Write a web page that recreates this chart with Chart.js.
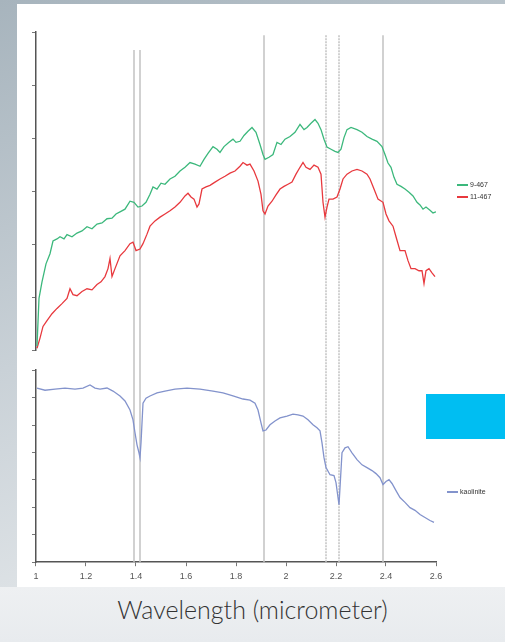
<!DOCTYPE html>
<html>
<head>
<meta charset="utf-8">
<script src="https://cdn.jsdelivr.net/npm/chart.js@4"></script>
<style>
  html, body { margin: 0; padding: 0; }
  body {
    width: 505px; height: 642px; overflow: hidden; position: relative;
    background: linear-gradient(160deg, #a7b4bd 0%, #c9d1d7 45%, #e2e6e9 80%, #eceef0 100%);
    font-family: "Liberation Sans", sans-serif;
  }
  #panel { position: absolute; left: 17px; top: 4px; width: 488px; height: 583px; background: #fff; }
  #bottomBand { position: absolute; left: 0; top: 587px; width: 505px; height: 55px; background: linear-gradient(180deg, #eef0f2, #e8ebee); }
  #wrap { position: absolute; left: 17px; top: 4px; width: 488px; height: 583px; }
  #caption { position: absolute; left: 0; width: 505px; top: 594px; text-align: center;
    font-family: Lato, "Open Sans", sans-serif; font-weight: 300; font-size: 25px; color: #333; }
  .leg { position: absolute; font-size: 7px; color: #333; white-space: nowrap; line-height: 8px; }
  .leg span.ln { display: inline-block; width: 11px; height: 2px; vertical-align: middle; margin-right: 2px; }
  #cyanBox { position: absolute; left: 426px; top: 394px; width: 79px; height: 45px; background: #00bef2; }
</style>
</head>
<body>
<div id="panel"></div>
<div id="bottomBand"></div>
<div id="wrap"><canvas id="cvs"></canvas></div>
<div id="cyanBox"></div>
<div id="legTop1" class="leg" style="left:457px; top:181px;"></div>
<div id="legTop2" class="leg" style="left:457px; top:193px;"></div>
<div id="legBot" class="leg" style="left:447px; top:488px;"></div>
<div id="caption">Wavelength (micrometer)</div>
<script>
// series names
const seriesNames = ['9-467', '11-467', 'kaolinite'];

// sample 9-467 (top panel)
const wl9467 = [1.004,1.012,1.024,1.04,1.056,1.068,1.084,1.096,1.112,1.124,
  1.144,1.164,1.184,1.204,1.224,1.244,1.264,1.284,1.304,1.32,
  1.336,1.356,1.376,1.392,1.408,1.424,1.44,1.456,1.468,1.484,
  1.5,1.516,1.536,1.556,1.576,1.596,1.616,1.636,1.656,1.672,
  1.688,1.708,1.724,1.736,1.752,1.772,1.788,1.8,1.816,1.832,
  1.848,1.864,1.88,1.896,1.908,1.916,1.932,1.948,1.964,1.98,
  1.996,2.016,2.036,2.056,2.072,2.084,2.1,2.116,2.128,2.14,
  2.152,2.164,2.18,2.196,2.208,2.22,2.232,2.244,2.26,2.284,
  2.304,2.324,2.344,2.364,2.384,2.396,2.408,2.42,2.432,2.444,
  2.46,2.476,2.492,2.508,2.524,2.536,2.548,2.56,2.576,2.588,2.6];
const r9467 = [0.8,9.8,12.9,16.3,18.2,20.6,21.0,21.4,21.0,21.8,
  21.4,22.1,22.5,23.3,22.9,23.8,24.0,24.8,24.9,25.7,
  26.1,26.6,28.1,27.9,27.0,27.2,27.9,29.4,30.8,30.4,
  31.5,31.3,32.3,32.8,33.8,34.5,35.4,35.1,34.7,36.0,
  37.1,38.4,37.9,37.3,38.4,39.2,39.8,39.2,39.4,40.5,
  41.3,42.0,41.1,38.8,36.9,36.0,36.4,36.9,39.2,38.8,
  39.8,40.3,41.1,42.6,41.6,42.0,42.8,43.5,42.8,41.6,
  39.8,38.3,37.9,37.5,37.3,37.9,40.1,41.6,42.0,41.6,
  41.1,40.3,39.8,39.4,38.4,36.9,35.3,34.5,32.6,31.3,
  30.9,30.4,29.8,29.1,27.9,27.4,26.6,27.0,26.4,25.9,26.1];

// sample 11-467 (top panel)
const wl11467 = [1.004,1.016,1.028,1.044,1.064,1.084,1.104,1.124,1.136,1.148,
  1.164,1.184,1.204,1.224,1.244,1.26,1.276,1.288,1.296,1.304,
  1.316,1.336,1.356,1.376,1.388,1.4,1.416,1.428,1.444,1.456,
  1.476,1.496,1.516,1.536,1.556,1.576,1.596,1.608,1.62,1.632,
  1.644,1.652,1.664,1.68,1.696,1.716,1.736,1.756,1.776,1.796,
  1.816,1.828,1.844,1.856,1.872,1.888,1.9,1.908,1.916,1.928,
  1.944,1.96,1.976,1.992,2.008,2.024,2.04,2.056,2.068,2.08,
  2.096,2.112,2.128,2.14,2.148,2.156,2.164,2.172,2.188,2.204,
  2.216,2.228,2.244,2.264,2.284,2.304,2.324,2.336,2.352,2.368,
  2.388,2.4,2.412,2.428,2.44,2.456,2.476,2.488,2.5,2.516,
  2.532,2.544,2.552,2.56,2.572,2.584,2.596];
const r11467 = [0.4,2.3,4.5,5.6,6.9,7.9,8.8,9.8,11.6,10.5,
  10.3,11.1,11.6,11.4,12.4,12.9,13.9,15.4,17.3,13.9,
  15.4,17.8,18.8,20.1,20.4,18.8,19.1,20.1,21.9,23.4,
  24.4,25.1,25.7,26.3,27.0,27.9,29.1,29.6,28.9,28.5,
  27.0,27.6,30.4,30.8,31.1,31.7,32.3,32.8,33.4,33.8,
  34.7,35.4,34.9,35.1,33.8,31.9,29.4,26.3,25.7,27.2,
  28.1,29.3,30.4,30.9,31.3,31.7,33.2,34.5,35.4,34.5,
  34.1,34.9,34.5,33.2,27.9,25.1,27.0,28.5,28.5,28.9,
  30.4,32.3,33.2,33.8,34.1,33.8,33.2,32.3,30.4,28.5,
  27.9,25.7,24.4,23.4,21.4,18.8,18.8,16.9,15.4,15.4,
  15.0,15.0,12.6,15.0,15.4,14.6,13.9];

// kaolinite reference (bottom panel)
const wlKaol = [1.004,1.036,1.076,1.116,1.156,1.188,1.216,1.236,1.256,1.284,
  1.308,1.336,1.356,1.376,1.388,1.396,1.404,1.412,1.416,1.42,
  1.428,1.44,1.456,1.484,1.516,1.556,1.604,1.656,1.708,1.748,
  1.788,1.828,1.856,1.876,1.888,1.9,1.908,1.92,1.936,1.956,
  1.976,2.004,2.028,2.048,2.068,2.088,2.108,2.124,2.136,2.144,
  2.152,2.16,2.176,2.192,2.2,2.208,2.212,2.216,2.224,2.236,
  2.248,2.264,2.284,2.304,2.324,2.344,2.36,2.376,2.388,2.4,
  2.412,2.424,2.44,2.456,2.476,2.496,2.516,2.536,2.556,2.576,2.592];
const rKaol = [63.5,62.7,63.1,63.5,63.1,63.5,64.6,63.5,63.1,63.5,
  62.4,60.6,58.8,55.5,51.9,47.2,42.8,39.9,38.1,43.5,
  58.0,59.8,60.6,61.7,62.4,63.1,63.5,63.1,62.4,61.7,
  60.6,59.5,59.1,58.0,55.5,50.8,47.9,48.2,50.1,51.5,
  52.6,53.3,54.0,53.7,53.3,51.9,50.1,49.0,47.9,43.5,
  38.1,34.5,31.9,31.6,29.0,23.6,21.0,27.2,39.9,41.7,
  42.1,39.9,37.4,35.5,34.5,33.4,32.3,30.8,28.3,29.4,
  30.1,28.7,26.1,23.6,21.8,19.9,18.9,17.4,16.3,15.2,14.5];

// absorption feature markers (micrometer) and where each starts in the top panel
const featureWl = [1.392, 1.416, 1.912, 2.16, 2.212, 2.388];
const featureTop = [56.6, 56.6, 59.4, 59.4, 59.4, 59.4];
const featureDotted = [false, false, false, true, true, false];

const colors = ['#3cb87c', '#e8393e', '#8393cc'];

const zip = (xs, ys) => xs.map((x, i) => ({x: x, y: ys[i]}));

// vertical marker lines across both panels
const featureLines = {
  id: 'featureLines',
  beforeDatasetsDraw(chart) {
    const ctx = chart.ctx;
    const x = chart.scales.x;
    const yTop = chart.scales.yTop;
    ctx.save();
    ctx.strokeStyle = '#c2c2c2';
    ctx.lineWidth = 1.5;
    featureWl.forEach((w, i) => {
      const px = x.getPixelForValue(w);
      ctx.setLineDash(featureDotted[i] ? [2, 1] : []);
      ctx.beginPath();
      ctx.moveTo(px, yTop.getPixelForValue(featureTop[i]));
      ctx.lineTo(px, chart.chartArea.bottom);
      ctx.stroke();
    });
    ctx.restore();
  }
};

const axisLine = {color: '#555', width: 1.5};
const tickFont = {family: 'Liberation Sans', size: 9};

let chart = new Chart(document.getElementById('cvs'), {
  type: 'line',
  data: {
    datasets: [
      {label: seriesNames[0], data: zip(wl9467, r9467), yAxisID: 'yTop', borderColor: colors[0], borderWidth: 1.3, pointRadius: 0},
      {label: seriesNames[1], data: zip(wl11467, r11467), yAxisID: 'yTop', borderColor: colors[1], borderWidth: 1.3, pointRadius: 0},
      {label: seriesNames[2], data: zip(wlKaol, rKaol), yAxisID: 'yBot', borderColor: colors[2], borderWidth: 1.3, pointRadius: 0}
    ]
  },
  options: {
    responsive: true,
    maintainAspectRatio: false,
    animation: false,
    layout: {padding: {left: 15, right: 69, top: 28, bottom: 0}},
    plugins: {legend: {display: false}, tooltip: {enabled: false}},
    scales: {
      x: {
        type: 'linear', min: 1, max: 2.6,
        ticks: {
          stepSize: 0.2, font: tickFont, color: '#555', padding: 5,
          callback: (v) => String(Number(v.toFixed(1)))
        },
        grid: {drawOnChartArea: false, tickLength: 4, color: '#777'},
        border: axisLine
      },
      yBot: {
        position: 'left', stack: 'v', stackWeight: 193, weight: 1,
        min: 0, max: 70,
        ticks: {display: false, stepSize: 10},
        grid: {drawOnChartArea: false, tickLength: 4, color: '#777'},
        border: axisLine
      },
      yGap: {
        position: 'left', stack: 'v', stackWeight: 20, weight: 2,
        min: 0, max: 1,
        ticks: {display: false},
        grid: {display: false, tickLength: 4},
        border: {display: false}
      },
      yTop: {
        position: 'left', stack: 'v', stackWeight: 320, weight: 3,
        min: 0, max: 60,
        ticks: {display: false, stepSize: 10},
        grid: {drawOnChartArea: false, tickLength: 4, color: '#777'},
        border: axisLine
      }
    }
  },
  plugins: [featureLines]
});

// legends
['legTop1', 'legTop2', 'legBot'].forEach((id, i) => {
  document.getElementById(id).innerHTML =
    '<span class="ln" style="background:' + colors[i] + '"></span>' + seriesNames[i];
});
</script>
</body>
</html>
